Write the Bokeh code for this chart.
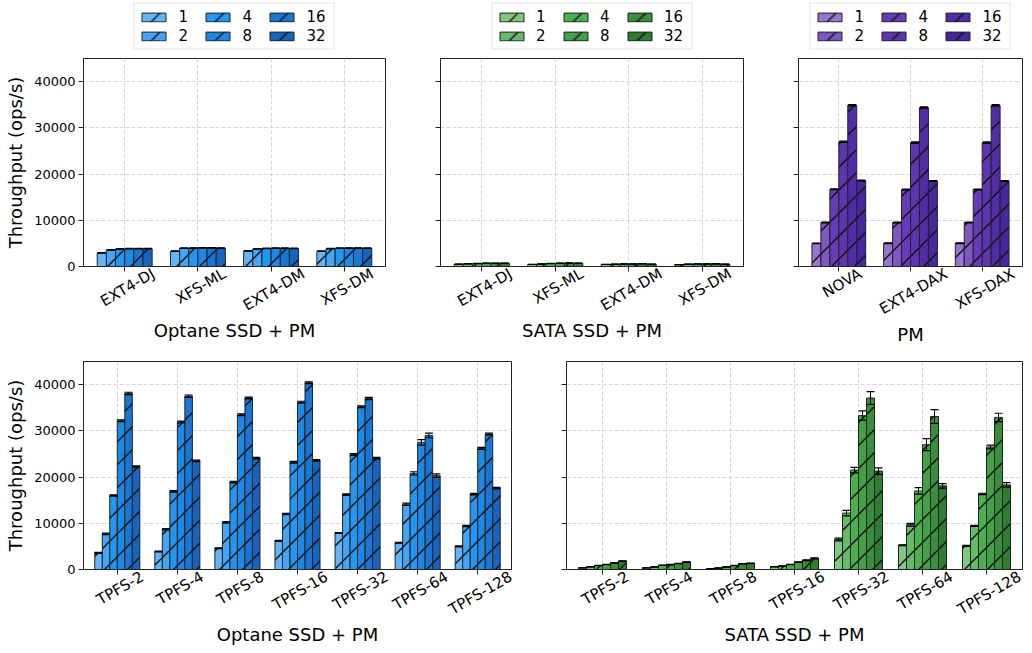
import base64
import struct
import zlib
from math import pi, sqrt
from bokeh.plotting import figure
from bokeh.core.properties import value
from bokeh.models import (Range1d, FixedTicker, Legend, LegendItem, Whisker, TeeHead,
                          ColumnDataSource, CustomJSTickFormatter, LinearAxis, ImageURLTexture)
from bokeh.layouts import column, row
from bokeh.embed import file_html
from bokeh.resources import INLINE

# ---------------- data ----------------
threads = ["1", "2", "4", "8", "16", "32"]

optane_fs_cats = ["EXT4-DJ", "XFS-ML", "EXT4-DM", "XFS-DM"]
optane_fs_vals = [[2950, 3600, 3800, 3850, 3850, 3850],
                  [3300, 3950, 4000, 4050, 4050, 4000],
                  [3400, 3800, 3900, 3950, 3950, 3900],
                  [3300, 3850, 3950, 4000, 4000, 3950]]
optane_fs_errs = [[60, 60, 60, 60, 60, 60],
                  [60, 60, 60, 60, 60, 60],
                  [60, 60, 60, 60, 60, 60],
                  [60, 60, 60, 60, 60, 60]]

sata_fs_cats = ["EXT4-DJ", "XFS-ML", "EXT4-DM", "XFS-DM"]
sata_fs_vals = [[500, 600, 650, 700, 700, 700],
                [450, 550, 650, 700, 750, 700],
                [450, 500, 550, 550, 600, 500],
                [400, 500, 550, 550, 600, 500]]
sata_fs_errs = [[20, 20, 20, 20, 20, 20],
                [20, 20, 20, 20, 20, 20],
                [20, 20, 20, 20, 20, 20],
                [20, 20, 20, 20, 20, 20]]

pm_cats = ["NOVA", "EXT4-DAX", "XFS-DAX"]
pm_vals = [[5000, 9500, 16700, 27000, 34900, 18600],
           [5050, 9500, 16650, 26800, 34400, 18500],
           [5050, 9500, 16650, 26800, 34850, 18500]]
pm_errs = [[80, 80, 100, 150, 150, 100],
           [80, 80, 100, 150, 150, 100],
           [80, 80, 100, 150, 150, 100]]

tpfs_cats = ["TPFS-2", "TPFS-4", "TPFS-8", "TPFS-16", "TPFS-32", "TPFS-64", "TPFS-128"]
tpfs_optane_vals = [[3600, 7700, 16000, 32200, 38100, 22300],
                    [3900, 8700, 16900, 31900, 37500, 23500],
                    [4600, 10200, 18900, 33500, 37100, 24100],
                    [6200, 12000, 23200, 36200, 40400, 23600],
                    [7900, 16200, 24900, 35200, 37000, 24100],
                    [5800, 14100, 20800, 27500, 29000, 20300],
                    [5000, 9400, 16300, 26200, 29300, 17600]]
tpfs_optane_errs = [[100, 150, 150, 200, 250, 150],
                    [100, 150, 150, 200, 250, 150],
                    [100, 150, 150, 200, 200, 150],
                    [100, 150, 200, 200, 200, 150],
                    [100, 150, 200, 200, 250, 150],
                    [100, 250, 350, 600, 500, 400],
                    [100, 150, 150, 200, 200, 150]]

tpfs_sata_vals = [[350, 580, 870, 1080, 1450, 1800],
                  [350, 550, 900, 1050, 1300, 1600],
                  [150, 300, 550, 850, 1250, 1350],
                  [600, 750, 1100, 1600, 2000, 2400],
                  [6500, 12200, 21500, 33300, 37100, 21300],
                  [5250, 9700, 17000, 27000, 33100, 18100],
                  [5100, 9450, 16350, 26500, 32900, 18300]]
tpfs_sata_errs = [[30, 30, 40, 40, 50, 60],
                  [30, 30, 40, 40, 50, 60],
                  [30, 30, 40, 40, 50, 60],
                  [30, 30, 40, 60, 80, 100],
                  [300, 600, 600, 1000, 1400, 700],
                  [100, 300, 700, 1300, 1500, 500],
                  [100, 100, 150, 400, 900, 500]]

y_ticks = [0, 10000, 20000, 30000, 40000]
y_max = 45000

blues = ["#64B5F6", "#42A5F5", "#2196F3", "#1E88E5", "#1976D2", "#1565C0"]
greens = ["#81C784", "#66BB6A", "#4CAF50", "#43A047", "#388E3C", "#2E7D32"]
purples = ["#9575CD", "#7E57C2", "#673AB7", "#5E35B1", "#512DA8", "#4527A0"]

FONT = "DejaVu Sans"


# ---- 45-degree "/" hatch tile (like matplotlib's), as an inline PNG texture ----
def diag_png(size=23, rgb=(17, 17, 17)):
    rows = b""
    for y in range(size):
        line = b"\x00"
        for x in range(size):
            d = (x + y - (size - 1)) % size
            dist = min(d, size - d) / sqrt(2)
            a = max(0.0, min(1.0, 1.2 - dist))
            line += bytes(rgb) + bytes([int(a * 255)])
        rows += line

    def chunk(tag, data):
        c = struct.pack(">I", len(data)) + tag + data
        return c + struct.pack(">I", zlib.crc32(tag + data) & 0xffffffff)
    png = b"\x89PNG\r\n\x1a\n"
    png += chunk(b"IHDR", struct.pack(">IIBBBBB", size, size, 8, 6, 0, 0, 0))
    png += chunk(b"IDAT", zlib.compress(rows))
    png += chunk(b"IEND", b"")
    return "data:image/png;base64," + base64.b64encode(png).decode()


img_tex = ImageURLTexture(url=diag_png(), repetition="repeat")
HATCH = dict(hatch_pattern=value("diagimg"), hatch_extra={"diagimg": img_tex},
             hatch_scale=23, hatch_color="#111111", hatch_weight=1)

CHAR_W = {'E': .632, 'X': .685, 'T': .611, '-': .361, 'D': .770, 'J': .295, 'F': .575,
          'S': .635, 'M': .863, 'L': .557, 'N': .748, 'O': .787, 'V': .684, 'A': .684,
          'P': .603}


def text_len(s, size):
    return sum(CHAR_W.get(c, .636) for c in s) * size


def legend_fig(colors, width, left, right):
    p = figure(width=width, height=52, x_axis_type=None, y_axis_type=None,
               output_backend="svg", toolbar_location=None,
               min_border_left=left, min_border_right=right,
               min_border_top=0, min_border_bottom=0)
    p.outline_line_color = None
    rends = []
    for j, t in enumerate(threads):
        src = ColumnDataSource(dict(x=[float("nan")], top=[float("nan")]))
        r = p.vbar(x="x", top="top", width=0.1, source=src, fill_color=colors[j],
                   line_color="#222222", line_width=1, **HATCH)
        rends.append(r)
    items = [LegendItem(label=t, renderers=[r]) for t, r in zip(threads, rends)]
    leg = Legend(items=items, orientation="vertical", nrows=2, location="center",
                 glyph_width=30, glyph_height=11, label_height=16, label_width=23,
                 label_standoff=10, spacing=1, padding=4, margin=0,
                 label_text_font=FONT, label_text_font_size="15px",
                 label_text_color="black",
                 border_line_color="#cccccc", border_line_width=1,
                 background_fill_color="white", background_fill_alpha=1.0)
    p.add_layout(leg, "center")
    return p


def panel(cats, vals, errs, colors, width, height, left, right, top, bottom,
          xlabel, xlabel_standoff, ylabel=None):
    n = len(cats)
    x0, x1 = -0.5625, n - 1 + 0.5625
    p = figure(width=width, height=height,
               x_range=Range1d(x0, x1), y_range=Range1d(0, y_max),
               output_backend="svg", toolbar_location=None,
               min_border_left=left, min_border_right=right,
               min_border_top=top, min_border_bottom=bottom)
    p.outline_line_color = "#222222"
    p.outline_line_width = 1

    bw = 0.125
    for j, t in enumerate(threads):
        xs = [i + (j - 2.5) * bw for i in range(n)]
        ys = [vals[i][j] for i in range(n)]
        es = [errs[i][j] for i in range(n)]
        src = ColumnDataSource(dict(x=xs, top=ys,
                                    lo=[y - e for y, e in zip(ys, es)],
                                    hi=[y + e for y, e in zip(ys, es)]))
        p.vbar(x="x", top="top", width=bw, source=src, fill_color=colors[j],
               line_color="#222222", line_width=1, **HATCH)
        w = Whisker(base="x", lower="lo", upper="hi", source=src,
                    line_color="black", line_width=1,
                    upper_head=TeeHead(size=8, line_color="black", line_width=1.2),
                    lower_head=TeeHead(size=8, line_color="black", line_width=1.2))
        w.level = "annotation"
        p.add_layout(w)

    # main x axis: tick marks only
    p.xaxis.ticker = FixedTicker(ticks=list(range(n)))
    p.xaxis.formatter = CustomJSTickFormatter(code="return ''")
    p.xaxis.major_label_text_font_size = "0px"
    p.xaxis.major_label_standoff = 0
    p.yaxis.ticker = FixedTicker(ticks=y_ticks)
    for ax in (p.xaxis, p.yaxis):
        ax.major_tick_out = 5
        ax.major_tick_in = 0
        ax.minor_tick_line_color = None
        ax.axis_line_color = "#222222"
        ax.major_tick_line_color = "#222222"
        ax.major_label_text_font = FONT
        ax.major_label_text_color = "black"
        ax.axis_label_text_font = FONT
        ax.axis_label_text_font_style = "normal"
        ax.axis_label_text_font_size = "18px"
        ax.axis_label_text_color = "black"
    p.yaxis.major_label_text_font_size = "13px"
    if ylabel:
        p.yaxis.axis_label = ylabel
        p.yaxis.major_label_standoff = 3
        p.yaxis.axis_label_standoff = 5
    else:
        p.yaxis.formatter = CustomJSTickFormatter(code="return ''")
        p.yaxis.major_label_text_font_size = "0px"
        p.yaxis.major_label_standoff = 0

    # label axis: rotated category names, centred on their ticks
    frame_w = width - left - right
    ppu = frame_w / (x1 - x0)
    fs = 15
    shifts = []
    for i, c in enumerate(cats):
        sh = (0.866 * text_len(c, fs) + 5.5) / 2 / ppu
        shifts.append(min(sh, x1 - i - 0.01))
    s = 0.5
    p.extra_x_ranges = {"lab": Range1d(x0 - s, x1 - s)}
    lab_ticks = [i + sh - s for i, sh in enumerate(shifts)]
    ax2 = LinearAxis(x_range_name="lab", ticker=FixedTicker(ticks=lab_ticks),
                     formatter=CustomJSTickFormatter(args=dict(names=cats),
                                                     code="return names[Math.round(tick)] || ''"),
                     major_label_orientation=pi / 6, major_label_standoff=1,
                     major_tick_out=0, major_tick_in=0, minor_tick_line_color=None,
                     axis_line_color=None, major_tick_line_color=None,
                     major_label_text_font=FONT, major_label_text_font_size=f"{fs}px",
                     major_label_text_color="black",
                     axis_label=xlabel, axis_label_standoff=xlabel_standoff,
                     axis_label_text_font=FONT, axis_label_text_font_style="normal",
                     axis_label_text_font_size="18px", axis_label_text_color="black")
    p.add_layout(ax2, "below")

    for g in (p.xgrid, p.ygrid):
        g.grid_line_color = "#cccccc"
        g.grid_line_dash = "4 2"
        g.grid_line_width = 0.8
    return p


YL = "Throughput (ops/s)"
l1 = legend_fig(blues, 412, 83, 27)
l2 = legend_fig(greens, 358, 28, 27)
l3 = legend_fig(purples, 262, 28, 10)
f1 = panel(optane_fs_cats, optane_fs_vals, optane_fs_errs, blues, 412, 300, 83, 27, 6, 86,
           "Optane SSD + PM", -5, ylabel=YL)
f2 = panel(sata_fs_cats, sata_fs_vals, sata_fs_errs, greens, 358, 300, 28, 27, 6, 86,
           "SATA SSD + PM", -5)
f3 = panel(pm_cats, pm_vals, pm_errs, purples, 262, 300, 28, 10, 6, 86,
           "PM", -5)
f4 = panel(tpfs_cats, tpfs_optane_vals, tpfs_optane_errs, blues, 538, 301, 83, 27, 9, 84,
           "Optane SSD + PM", -5, ylabel=YL)
f5 = panel(tpfs_cats, tpfs_sata_vals, tpfs_sata_errs, greens, 494, 301, 28, 10, 9, 84,
           "SATA SSD + PM", -5)

layout = column(row(l1, l2, l3), row(f1, f2, f3), row(f4, f5))
open("out.html", "w").write(file_html(layout, INLINE))
